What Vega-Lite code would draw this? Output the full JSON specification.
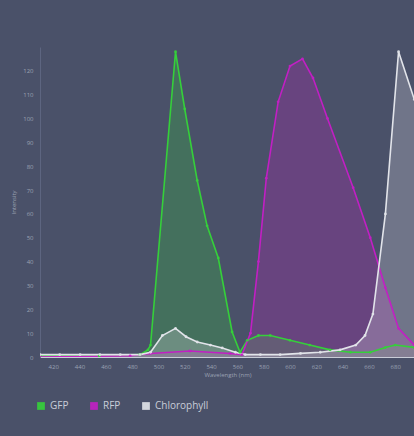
{
  "$schema": "https://vega.github.io/schema/vega-lite/v6.json",
  "autosize": {"type": "none"},
  "padding": {"left": 40, "top": 47, "right": 0, "bottom": 79},
  "width": 375,
  "height": 310,
  "background": "#4a5169",
  "config": {
    "view": {"stroke": null},
    "font": "Open Sans"
  },
  "data": {
    "values": [
      {"series": "GFP", "nm": 410, "value": 0.5},
      {"series": "GFP", "nm": 455, "value": 0.5},
      {"series": "GFP", "nm": 486, "value": 1},
      {"series": "GFP", "nm": 492, "value": 3},
      {"series": "GFP", "nm": 494, "value": 5},
      {"series": "GFP", "nm": 513, "value": 128},
      {"series": "GFP", "nm": 520, "value": 104},
      {"series": "GFP", "nm": 529.5, "value": 74},
      {"series": "GFP", "nm": 537, "value": 55},
      {"series": "GFP", "nm": 545.5, "value": 41.5},
      {"series": "GFP", "nm": 556, "value": 10.5},
      {"series": "GFP", "nm": 562, "value": 2},
      {"series": "GFP", "nm": 567.5, "value": 7},
      {"series": "GFP", "nm": 576, "value": 9},
      {"series": "GFP", "nm": 585, "value": 9},
      {"series": "GFP", "nm": 600, "value": 7},
      {"series": "GFP", "nm": 615, "value": 5},
      {"series": "GFP", "nm": 630.5, "value": 3},
      {"series": "GFP", "nm": 646, "value": 2},
      {"series": "GFP", "nm": 661, "value": 2},
      {"series": "GFP", "nm": 672.5, "value": 4},
      {"series": "GFP", "nm": 680, "value": 5},
      {"series": "GFP", "nm": 694.5, "value": 4},
      {"series": "RFP", "nm": 410, "value": 0},
      {"series": "RFP", "nm": 478.5, "value": 0.5},
      {"series": "RFP", "nm": 494, "value": 1.5},
      {"series": "RFP", "nm": 524, "value": 2.5},
      {"series": "RFP", "nm": 554.5, "value": 1.5},
      {"series": "RFP", "nm": 563.5, "value": 1},
      {"series": "RFP", "nm": 570, "value": 10},
      {"series": "RFP", "nm": 576, "value": 40},
      {"series": "RFP", "nm": 582, "value": 75},
      {"series": "RFP", "nm": 591, "value": 107},
      {"series": "RFP", "nm": 600, "value": 122},
      {"series": "RFP", "nm": 609.5, "value": 125},
      {"series": "RFP", "nm": 617.5, "value": 117},
      {"series": "RFP", "nm": 628.5, "value": 100},
      {"series": "RFP", "nm": 648, "value": 71},
      {"series": "RFP", "nm": 661, "value": 50},
      {"series": "RFP", "nm": 672.5, "value": 29},
      {"series": "RFP", "nm": 682.5, "value": 12},
      {"series": "RFP", "nm": 694.5, "value": 5},
      {"series": "Chlorophyll", "nm": 410, "value": 1},
      {"series": "Chlorophyll", "nm": 425, "value": 1},
      {"series": "Chlorophyll", "nm": 440.5, "value": 1},
      {"series": "Chlorophyll", "nm": 455.5, "value": 1},
      {"series": "Chlorophyll", "nm": 471, "value": 1},
      {"series": "Chlorophyll", "nm": 486, "value": 1},
      {"series": "Chlorophyll", "nm": 494, "value": 2},
      {"series": "Chlorophyll", "nm": 503, "value": 9},
      {"series": "Chlorophyll", "nm": 513, "value": 12},
      {"series": "Chlorophyll", "nm": 521, "value": 8.5},
      {"series": "Chlorophyll", "nm": 529.5, "value": 6.3},
      {"series": "Chlorophyll", "nm": 539.5, "value": 5},
      {"series": "Chlorophyll", "nm": 548.5, "value": 3.8},
      {"series": "Chlorophyll", "nm": 558.5, "value": 2},
      {"series": "Chlorophyll", "nm": 566, "value": 1},
      {"series": "Chlorophyll", "nm": 577.5, "value": 1},
      {"series": "Chlorophyll", "nm": 592.5, "value": 1},
      {"series": "Chlorophyll", "nm": 608, "value": 1.5},
      {"series": "Chlorophyll", "nm": 623, "value": 2},
      {"series": "Chlorophyll", "nm": 638, "value": 3},
      {"series": "Chlorophyll", "nm": 650, "value": 5},
      {"series": "Chlorophyll", "nm": 657, "value": 9},
      {"series": "Chlorophyll", "nm": 663, "value": 18},
      {"series": "Chlorophyll", "nm": 672.5, "value": 60},
      {"series": "Chlorophyll", "nm": 682.5, "value": 128},
      {"series": "Chlorophyll", "nm": 694.5, "value": 108}
    ]
  },
  "encoding": {
    "x": {
      "field": "nm", "type": "quantitative",
      "scale": {"domain": [410, 695], "nice": false, "zero": false},
      "axis": {
        "title": "Wavelength (nm)",
        "titleFontSize": 6, "titleColor": "#9aa1b3", "titleFontWeight": "normal", "titlePadding": 2,
        "values": [420, 440, 460, 480, 500, 520, 540, 560, 580, 600, 620, 640, 660, 680],
        "labelFontSize": 6, "labelColor": "#9aa1b3", "labelPadding": 6,
        "domainColor": "#c9cdd8", "domainWidth": 1,
        "ticks": false, "grid": false
      }
    },
    "y": {
      "field": "value", "type": "quantitative",
      "stack": null,
      "scale": {"domain": [0, 130], "nice": false},
      "axis": {
        "title": "Intensity",
        "titleFontSize": 6, "titleColor": "#9aa1b3", "titleFontWeight": "normal", "titlePadding": 6,
        "values": [0, 10, 20, 30, 40, 50, 60, 70, 80, 90, 100, 110, 120],
        "labelFontSize": 6, "labelColor": "#9aa1b3", "labelPadding": 7,
        "domainColor": "#5d6580", "ticks": false, "grid": false
      }
    },
    "color": {
      "field": "series", "type": "nominal",
      "scale": {"domain": ["GFP", "RFP", "Chlorophyll"], "range": ["#35d03a", "#c21fc4", "#e2e4ea"]},
      "legend": {
        "title": null, "orient": "none", "direction": "horizontal",
        "legendX": -4, "legendY": 354,
        "symbolType": "square", "symbolSize": 60, "symbolFillOpacity": 1, "symbolStrokeWidth": 0,
        "labelFontSize": 10, "labelColor": "#c9cdd8", "columnPadding": 20, "labelOffset": 4
      }
    }
  },
  "layer": [
    {
      "mark": {"type": "area", "fillOpacity": 0.25, "clip": true}
    },
    {
      "mark": {"type": "line", "strokeWidth": 1.6, "clip": true, "point": {"size": 8, "filled": true, "opacity": 0.9}}
    }
  ]
}
